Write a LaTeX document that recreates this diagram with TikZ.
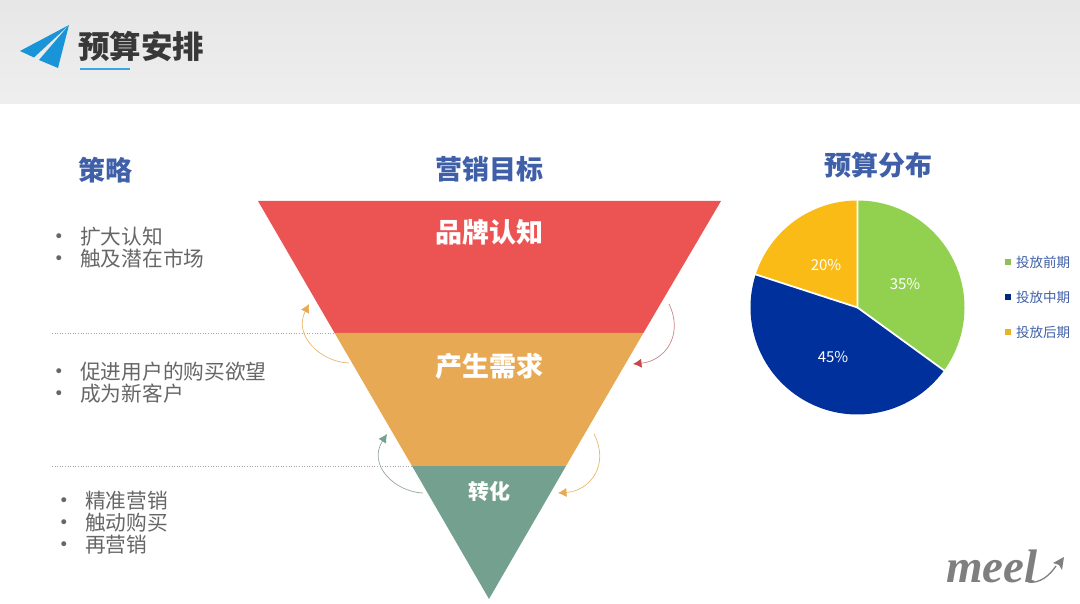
\documentclass[tikz,border=0pt]{standalone}
\usepackage{fontspec}
\setmainfont{Noto Sans CJK SC}
\newfontfamily\logofont{Liberation Serif}
\newfontfamily\dotfont{DejaVu Sans}
\definecolor{headblue}{HTML}{3F5FA8}
\definecolor{funred}{HTML}{EC5353}
\definecolor{funorange}{HTML}{E8A954}
\definecolor{fungreen}{HTML}{74A08F}
\definecolor{piegreen}{HTML}{92D050}
\definecolor{pieblue}{HTML}{00309C}
\definecolor{pieyellow}{HTML}{FBBB17}
\definecolor{planeblue}{HTML}{1A94D8}
\definecolor{bodygray}{HTML}{666666}
\definecolor{logogray}{HTML}{7F7F7F}
\tikzset{
  headtext/.style={font=\fontsize{27}{27}\selectfont\bfseries,text=headblue,inner sep=0pt},
  funtext/.style={font=\fontsize{27}{27}\selectfont\bfseries,text=white,inner sep=0pt},
  bodytext/.style={font=\fontsize{20.7}{20.7}\selectfont,text=bodygray,inner sep=0pt,anchor=west},
  dotmark/.style={font=\dotfont\fontsize{17}{17}\selectfont,text=bodygray,inner sep=0pt},
  pct/.style={font=\fontsize{15}{15}\selectfont,text=white,inner sep=0pt},
  legtext/.style={font=\fontsize{13.5}{13.5}\selectfont,text=headblue,inner sep=0pt,anchor=west},
  legmark/.style={minimum size=6pt,inner sep=0pt,draw=none},
  rule/.style={black!35,line width=0.6pt,dash pattern=on 1pt off 1.6pt},
  swirl/.style={line width=0.7pt},
}
\usetikzlibrary{arrows.meta}
\begin{document}
\begin{tikzpicture}[x=1pt,y=-1pt]
\useasboundingbox (0,0) rectangle (1080,604);
% header band
\shade[top color=black!9.5,bottom color=black!6.5] (0,0) rectangle (1080,103.5);
% plane icon
\fill[planeblue] (69,25) -- (20,51) -- (34,57.5) -- cycle;
\fill[planeblue] (69,25) -- (39,60) -- (58,68) -- cycle;
\node[inner sep=0pt,font=\fontsize{31.5}{31.5}\selectfont\bfseries,text=black!78] (title) at (141,47) {预算安排};
\coordinate (ulL) at (80,69); \coordinate (ulR) at (130,69);
\draw[planeblue!85,line width=1.4pt] (ulL) -- (ulR);
% headings
\node[headtext] (hStrat) at (105,170) {策略};
\node[headtext] (hGoal) at (489,169) {营销目标};
\node[headtext] (hBudget) at (878,165) {预算分布};
% funnel
\fill[funred] (258,201) -- (721,201) -- (643.4,333) -- (334.6,333) -- cycle;
\fill[funorange] (334.6,333) -- (643.4,333) -- (566,466) -- (412,466) -- cycle;
\fill[fungreen] (412,466) -- (566,466) -- (489,599) -- cycle;
\node[funtext] (fA) at (489,232) {品牌认知};
\node[funtext] (fB) at (489,366) {产生需求};
\node[funtext,font=\fontsize{21}{21}\selectfont\bfseries] (fC) at (489,491.5) {转化};
% dotted rules
\coordinate (r1a) at (52,333.5); \coordinate (r1b) at (334,333.5);
\coordinate (r2a) at (52,466); \coordinate (r2b) at (412,466);
\draw[rule] (r1a) -- (r1b);
\draw[rule] (r2a) -- (r2b);
% swirl arrows
\coordinate (s1a) at (349,363); \coordinate (s1b) at (309,304);
\coordinate (s2a) at (669,304); \coordinate (s2b) at (633,364);
\coordinate (s3a) at (423,493); \coordinate (s3b) at (387,434);
\coordinate (s4a) at (594,434); \coordinate (s4b) at (558,493);
\draw[swirl,draw=funorange!85,-{Latex[length=8.5pt,width=9pt,color=funorange]}] (s1a) .. controls (320,362) and (293,335) .. (s1b);
\draw[swirl,draw=funred!55!gray!80,-{Latex[length=8.5pt,width=9pt,color=funred!85!black]}] (s2a) .. controls (684,335) and (665,361) .. (s2b);
\draw[swirl,draw=fungreen!60!gray!80,-{Latex[length=8.5pt,width=9pt,color=fungreen]}] (s3a) .. controls (395,492) and (367,465) .. (s3b);
\draw[swirl,draw=funorange!85,-{Latex[length=8.5pt,width=9pt,color=funorange]}] (s4a) .. controls (610,465) and (590,491) .. (s4b);
% strategy lists
\foreach \nm/\bx/\tx/\yy/\bb/\txt in {a/59/80/236.5/238/扩大认知,b/59/80/258.5/260/触及潜在市场,c/59/80/371.5/373/促进用户的购买欲望,d/59/80/393.5/395/成为新客户,e/64/85/500.5/502/精准营销,f/64/85/522.5/524/触动购买,g/64/85/544.5/546/再营销}{
  \node[dotmark] (dot\nm) at (\bx,\bb) {•};
  \node[bodytext] (txt\nm) at (\tx,\yy) {\txt};
}
% pie
\coordinate (pc) at (857.5,307.5);
\fill[piegreen] (pc) -- (857.5,200.5) arc[start angle=-90,end angle=36,radius=107] -- cycle;
\fill[pieblue] (pc) -- ++(36:107) arc[start angle=36,end angle=198,radius=107] -- cycle;
\fill[pieyellow] (pc) -- ++(198:107) arc[start angle=198,end angle=270,radius=107] -- cycle;
\draw[white,line width=1.8pt] (857.5,200) -- (pc) -- ++(36:108);
\draw[white,line width=1.8pt] (pc) -- ++(198:108);
\node[pct] (p35) at (905,284) {35\%};
\node[pct] (p45) at (833,357) {45\%};
\node[pct] (p20) at (826,265) {20\%};
% legend
\node[legmark,fill=piegreen!80!gray] (m1) at (1008,262) {};
\node[legmark,fill=pieblue!85!black] (m2) at (1008,297) {};
\node[legmark,fill=pieyellow!85!gray] (m3) at (1008,332) {};
\node[legtext] (l1) at (1016,262) {投放前期};
\node[legtext] (l2) at (1016,297) {投放中期};
\node[legtext] (l3) at (1016,332) {投放后期};
% logo
\node[inner sep=0pt,font=\logofont\bfseries\itshape\fontsize{47}{47}\selectfont,text=logogray] (logo) at (992,566) {meel};
\coordinate (la) at (1028,582); \coordinate (lb) at (1056,566);
\draw[logogray,line width=1.3pt] (la) .. controls (1040,584) and (1050,575) .. (lb);
\fill[logogray] (1064,557) -- (1053,563) -- (1059,565) -- (1062,570) -- cycle;
\end{tikzpicture}
\end{document}
